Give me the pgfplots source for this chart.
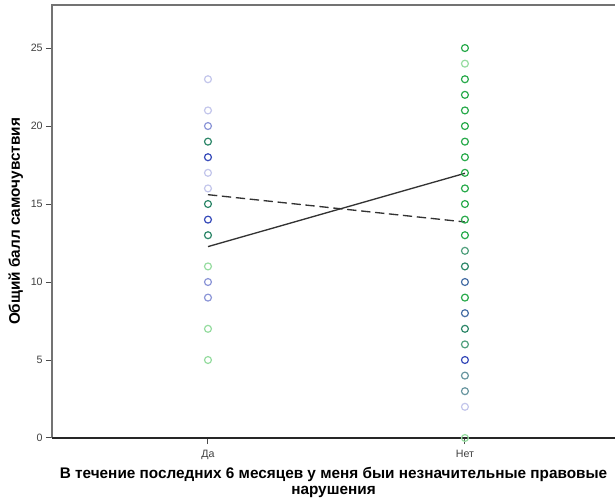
\documentclass[border=0pt]{standalone}
\usepackage{fontspec}
\setmainfont{Liberation Sans}
\usepackage{pgfplots}
\pgfplotsset{compat=1.18}
\usepackage{pgfplotstable}
\definecolor{cL}{RGB}{195,198,235}
\definecolor{cV}{RGB}{140,150,215}
\definecolor{cB}{RGB}{55,75,185}
\definecolor{cT}{RGB}{45,135,105}
\definecolor{cT2}{RGB}{80,160,125}
\definecolor{cG}{RGB}{40,170,75}
\definecolor{cG2}{RGB}{150,220,160}
\definecolor{cS}{RGB}{70,110,165}
\definecolor{cGT}{RGB}{105,150,160}
\pgfplotstableread{
x y c
0 23 L
0 21 L
0 20 V
0 19 T
0 18 B
0 17 L
0 16 L
0 15 T
0 14 B
0 13 T
0 11 G2
0 10 V
0 9 V
0 7 G2
0 5 G2
1 25 G
1 24 G2
1 23 G
1 22 G
1 21 G
1 20 G
1 19 G
1 18 G
1 17 G
1 16 G
1 15 G
1 14 G
1 13 G
1 12 T2
1 11 T
1 10 S
1 9 G
1 8 S
1 7 T
1 6 T2
1 5 B
1 4 GT
1 3 GT
1 2 L
1 0 G2
}\pts
\begin{document}
\begin{tikzpicture}
\useasboundingbox (-39pt,-46.5pt) rectangle (422.25pt,3.75pt+324.75pt);
\begin{axis}[
  at={(0,0)}, anchor=south west,
  scale only axis, width=422.25pt, height=324.75pt,
  xmin=-0.607, xmax=1.584, ymin=0, ymax=27.76,
  axis line style={draw=none},
  xtick={0,1}, xticklabels={Да,Нет},
  ytick={0,5,10,15,20,25},
  tick align=outside, xtick pos=bottom, ytick pos=left,
  major tick length=4.5pt,
  tick style={black!70, line width=0.75pt},
  /pgf/number format/assume math mode=true,
  ticklabel style={font=\fontsize{8}{10}\selectfont, text=black!75},
  xticklabel style={yshift=-1pt},
  yticklabel style={xshift=1pt},
  xlabel={\textbf{В течение последних 6 месяцев у меня быи незначительные правовые}\\\textbf{нарушения}},
  ylabel={\textbf{Общий балл самочувствия}},
  xlabel style={font=\fontsize{11.5}{12.6}\selectfont, align=center, at={(axis description cs:0.5,0)}, anchor=north, yshift=-21.5pt, inner sep=0pt},
  ylabel style={font=\fontsize{11.5}{12.3}\selectfont, at={(axis description cs:0,0.5)}, anchor=south, yshift=21.5pt, inner sep=0pt},
  clip=false,
]
\draw[black!55, line width=0.9pt] (rel axis cs:0,0) -- (rel axis cs:0,1) -- (rel axis cs:1,1);
\addplot[scatter, only marks, mark=o, mark size=2.6pt,
  scatter src=explicit symbolic,
  scatter/classes={
    L={mark=o, draw=cL, line width=0.9pt},
    V={mark=o, draw=cV, line width=0.9pt},
    B={mark=o, draw=cB, line width=0.9pt},
    T={mark=o, draw=cT, line width=0.9pt},
    T2={mark=o, draw=cT2, line width=0.9pt},
    G={mark=o, draw=cG, line width=0.9pt},
    G2={mark=o, draw=cG2, line width=0.9pt},
    S={mark=o, draw=cS, line width=0.9pt},
    GT={mark=o, draw=cGT, line width=0.9pt}}]
  table[x=x, y=y, meta=c]{\pts};
\addplot[black!80, line width=1pt, no marks] coordinates {(0,12.27) (1,16.97)};
\addplot[black!80, line width=1pt, no marks, dash pattern=on 7pt off 3.5pt] coordinates {(0,15.6) (1,13.85)};
\draw[black!85, line width=1pt] (rel axis cs:0,0) -- (rel axis cs:1,0);
\end{axis}
\end{tikzpicture}
\end{document}
